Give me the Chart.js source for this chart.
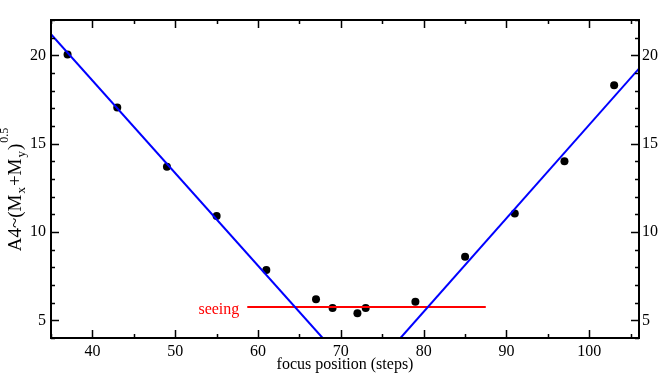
<!DOCTYPE html>
<html>
<head>
<meta charset="utf-8">
<script src="https://cdn.jsdelivr.net/npm/chart.js@4.4.1/dist/chart.umd.min.js"></script>
<style>
    html, body { margin: 0; padding: 0; background: #fff; }
    #wrap { width: 665px; height: 375px; }
</style>
</head>
<body>
<div id="wrap"><canvas id="my-chart" width="665" height="375"></canvas></div>
<script>
// measured focus positions and image quality
var focusSteps = [37, 43, 49, 55, 61, 67, 69, 72, 73, 79, 85, 91, 97, 103];
var focusValues = [20.05, 17.05, 13.7, 10.9, 7.85, 6.2, 5.7, 5.4, 5.7, 6.05, 8.6, 11.05, 14.0, 18.3];

// linear fits to the two wings
var leftFitX = [35, 67.8];
var leftFitY = [21.2, 4.0];
var rightFitX = [77.2, 106];
var rightFitY = [4.0, 19.25];

// seeing level
var seeingX = [58.7, 87.5];
var seeingY = [5.76, 5.76];
var seeingLabel = "seeing";

var xTicks = [40, 50, 60, 70, 80, 90, 100];
var yTicks = [5, 10, 15, 20];
var xMinorStep = 5;
var yMinorStep = 1;

var serif = "'Liberation Serif', 'DejaVu Serif', serif";

function toPoints(xs, ys) {
    var pts = [];
    for (var i = 0; i < xs.length; i++) {
        pts.push({x: xs[i], y: ys[i]});
    }
    return pts;
}

function setTicks(values) {
    return function (scale) {
        scale.ticks = values.map(function (v) { return {value: v}; });
    };
}

function fixWidth(w) {
    return function (scale) { scale.width = w; };
}

// frame, inward ticks, y title and seeing label
var decorations = {
    id: "decorations",
    afterDraw: function (chart) {
        var ctx = chart.ctx;
        var a = chart.chartArea;
        var xs = chart.scales.x, ys = chart.scales.y;
        var v, px, py, major;
        ctx.save();
        ctx.strokeStyle = "#000";
        ctx.lineWidth = 1.5;
        ctx.beginPath();
        for (v = xs.min; v <= xs.max; v += 1) {
            if (v % xMinorStep !== 0) continue;
            major = xTicks.indexOf(v) >= 0;
            px = Math.round(xs.getPixelForValue(v)) + 0.5;
            ctx.moveTo(px, a.bottom);
            ctx.lineTo(px, a.bottom - (major ? 8 : 4));
            ctx.moveTo(px, a.top);
            ctx.lineTo(px, a.top + (major ? 8 : 4));
        }
        for (v = Math.ceil(ys.min); v <= ys.max; v += yMinorStep) {
            major = yTicks.indexOf(v) >= 0;
            py = Math.round(ys.getPixelForValue(v)) + 0.5;
            ctx.moveTo(a.left, py);
            ctx.lineTo(a.left + (major ? 8 : 4), py);
            ctx.moveTo(a.right, py);
            ctx.lineTo(a.right - (major ? 8 : 4), py);
        }
        ctx.stroke();
        ctx.lineWidth = 2;
        ctx.strokeRect(a.left, a.top, a.right - a.left, a.bottom - a.top);

        // seeing label
        ctx.fillStyle = "#ff0000";
        ctx.font = "16px " + serif;
        ctx.textAlign = "right";
        ctx.textBaseline = "middle";
        ctx.fillText(seeingLabel, xs.getPixelForValue(seeingX[0]) - 8, ys.getPixelForValue(seeingY[0]) + 3);

        // y axis title A4~(Mx+My)^0.5
        var parts = [
            {t: "A4~(M", size: 19, dy: 0},
            {t: "x", size: 13, dy: 4},
            {t: "+M", size: 19, dy: 0},
            {t: "y", size: 13, dy: 4},
            {t: ")", size: 19, dy: 0},
            {t: "0.5", size: 12, dy: -13}
        ];
        var total = 0;
        parts.forEach(function (p) {
            ctx.font = p.size + "px " + serif;
            p.w = ctx.measureText(p.t).width + 1;
            total += p.w;
        });
        ctx.translate(21, 189);
        ctx.rotate(-Math.PI / 2);
        ctx.fillStyle = "#000";
        ctx.textAlign = "left";
        ctx.textBaseline = "alphabetic";
        var cx = -total / 2;
        parts.forEach(function (p) {
            ctx.font = p.size + "px " + serif;
            ctx.fillText(p.t, cx, p.dy);
            cx += p.w;
        });
        ctx.restore();
    }
};

var tickFont = {family: serif, size: 16};

var config = {
    type: "scatter",
    data: {
        datasets: [{
            label: "fit left",
            data: toPoints(leftFitX, leftFitY),
            showLine: true,
            borderColor: "#0000ff",
            borderWidth: 2,
            pointRadius: 0
        }, {
            label: "fit right",
            data: toPoints(rightFitX, rightFitY),
            showLine: true,
            borderColor: "#0000ff",
            borderWidth: 2,
            pointRadius: 0
        }, {
            label: "seeing",
            data: toPoints(seeingX, seeingY),
            showLine: true,
            borderColor: "#ff0000",
            borderWidth: 2,
            pointRadius: 0
        }, {
            label: "focus",
            data: toPoints(focusSteps, focusValues),
            backgroundColor: "#000",
            borderColor: "#000",
            borderWidth: 0,
            pointRadius: 4,
            pointStyle: "circle"
        }]
    },
    options: {
        responsive: false,
        animation: false,
        layout: {padding: {top: 20, left: 0, right: 0, bottom: 1}},
        plugins: {legend: {display: false}, tooltip: {enabled: false}},
        scales: {
            x: {
                type: "linear",
                position: "bottom",
                min: 35,
                max: 106,
                afterBuildTicks: setTicks(xTicks),
                afterFit: function (scale) { scale.height = 36; },
                grid: {display: false, drawTicks: false},
                border: {display: false},
                ticks: {color: "#000", font: tickFont, padding: 4, maxRotation: 0},
                title: {
                    display: true,
                    text: "focus position (steps)",
                    color: "#000",
                    font: {family: serif, size: 16},
                    padding: {top: 0, bottom: 0}
                }
            },
            y: {
                type: "linear",
                position: "left",
                min: 4,
                max: 22,
                afterBuildTicks: setTicks(yTicks),
                afterFit: fixWidth(51),
                grid: {display: false, drawTicks: false},
                border: {display: false},
                ticks: {color: "#000", font: tickFont, padding: 5}
            },
            y2: {
                type: "linear",
                position: "right",
                min: 4,
                max: 22,
                afterBuildTicks: setTicks(yTicks),
                afterFit: fixWidth(26),
                grid: {display: false, drawTicks: false},
                border: {display: false},
                ticks: {color: "#000", font: tickFont, padding: 3}
            }
        }
    },
    plugins: [decorations]
};

var ctx = document.getElementById("my-chart").getContext("2d");
var focusChart = new Chart(ctx, config);
</script>
</body>
</html>
